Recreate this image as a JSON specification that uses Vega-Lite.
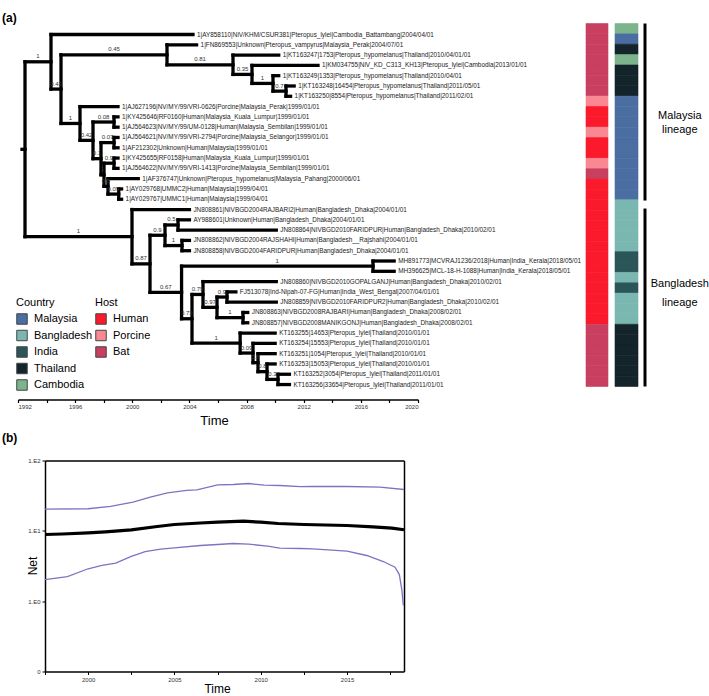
{
"$schema": "https://vega.github.io/schema/vega-lite/v6.json",
"padding": {"left": 2, "top": 11.5, "right": 0, "bottom": 0},
"background": "white",
"config": {
  "font": "Liberation Sans",
  "view": {"stroke": null},
  "axis": {"grid": false, "labelFont": "Liberation Sans", "titleFont": "Liberation Sans"},
  "legend": {"symbolType": "square", "symbolSize": 110, "symbolStrokeColor": "#444", "symbolStrokeWidth": 1, "symbolOpacity": 1, "labelFontSize": 11, "titleFontSize": 11, "titleFontWeight": "normal", "labelColor": "black", "titleColor": "black", "rowPadding": 0.5, "titlePadding": 5, "labelOffset": 6, "padding": 0, "offset": 0},
  "title": {"font": "Liberation Sans"}
},
"datasets": {
  "tips": [
    {"i":1,"t":2004.25,"host":"Bat","country":"Cambodia","label":"1|AY858110|NiV/KHM/CSUR381|Pteropus_lylei|Cambodia_Battambang|2004/04/01"},
    {"i":2,"t":2004.5,"host":"Bat","country":"Malaysia","label":"1|FN869553|Unknown|Pteropus_vampyrus|Malaysia_Perak|2004/07/01"},
    {"i":3,"t":2010.25,"host":"Bat","country":"Thailand","label":"1|KT163247|1753|Pteropus_hypomelanus|Thailand|2010/04/01/01"},
    {"i":4,"t":2013.0,"host":"Bat","country":"Cambodia","label":"1|KM034755|NiV_KD_C313_KH13|Pteropus_lylei|Cambodia|2013/01/01"},
    {"i":5,"t":2010.25,"host":"Bat","country":"Thailand","label":"1|KT163249|1353|Pteropus_hypomelanus|Thailand|2010/04/01"},
    {"i":6,"t":2011.33,"host":"Bat","country":"Thailand","label":"1|KT163248|16454|Pteropus_hypomelanus|Thailand|2011/05/01"},
    {"i":7,"t":2011.08,"host":"Bat","country":"Thailand","label":"1|KT163250|8554|Pteropus_hypomelanus|Thailand|2011/02/01"},
    {"i":8,"t":1999.0,"host":"Porcine","country":"Malaysia","label":"1|AJ627196|NV/MY/99/VRI-0626|Porcine|Malaysia_Perak|1999/01/01"},
    {"i":9,"t":1999.0,"host":"Human","country":"Malaysia","label":"1|KY425646|RF0160|Human|Malaysia_Kuala_Lumpur|1999/01/01"},
    {"i":10,"t":1999.0,"host":"Human","country":"Malaysia","label":"1|AJ564623|NV/MY/99/UM-0128|Human|Malaysia_Sembilan|1999/01/01"},
    {"i":11,"t":1999.0,"host":"Porcine","country":"Malaysia","label":"1|AJ564621|NV/MY/99/VRI-2794|Porcine|Malaysia_Selangor|1999/01/01"},
    {"i":12,"t":1999.0,"host":"Human","country":"Malaysia","label":"1|AF212302|Unknown|Human|Malaysia|1999/01/01"},
    {"i":13,"t":1999.0,"host":"Human","country":"Malaysia","label":"1|KY425655|RF0158|Human|Malaysia_Kuala_Lumpur|1999/01/01"},
    {"i":14,"t":1999.0,"host":"Porcine","country":"Malaysia","label":"1|AJ564622|NV/MY/99/VRI-1413|Porcine|Malaysia_Sembilan|1999/01/01"},
    {"i":15,"t":2000.42,"host":"Bat","country":"Malaysia","label":"1|AF376747|Unknown|Pteropus_hypomelanus|Malaysia_Pahang|2000/06/01"},
    {"i":16,"t":1999.25,"host":"Human","country":"Malaysia","label":"1|AY029768|UMMC2|Human|Malaysia|1999/04/01"},
    {"i":17,"t":1999.25,"host":"Human","country":"Malaysia","label":"1|AY029767|UMMC1|Human|Malaysia|1999/04/01"},
    {"i":18,"t":2004.0,"host":"Human","country":"Bangladesh","label":"JN808861|NIVBGD2004RAJBARI2|Human|Bangladesh_Dhaka|2004/01/01"},
    {"i":19,"t":2004.0,"host":"Human","country":"Bangladesh","label":"AY988601|Unknown|Human|Bangladesh_Dhaka|2004/01/01"},
    {"i":20,"t":2010.08,"host":"Human","country":"Bangladesh","label":"JN808864|NIVBGD2010FARIDPUR|Human|Bangladesh_Dhaka|2010/02/01"},
    {"i":21,"t":2004.0,"host":"Human","country":"Bangladesh","label":"JN808862|NIVBGD2004RAJSHAHI|Human|Bangladesh__Rajshahi|2004/01/01"},
    {"i":22,"t":2004.0,"host":"Human","country":"Bangladesh","label":"JN808858|NIVBGD2004FARIDPUR|Human|Bangladesh_Dhaka|2004/01/01"},
    {"i":23,"t":2018.33,"host":"Human","country":"India","label":"MH891773|MCVRAJ1236/2018|Human|India_Kerala|2018/05/01"},
    {"i":24,"t":2018.33,"host":"Human","country":"India","label":"MH396625|MCL-18-H-1088|Human|India_Kerala|2018/05/01"},
    {"i":25,"t":2010.08,"host":"Human","country":"Bangladesh","label":"JN808860|NIVBGD2010GOPALGANJ|Human|Bangladesh_Dhaka|2010/02/01"},
    {"i":26,"t":2007.25,"host":"Human","country":"India","label":"FJ513078|Ind-Nipah-07-FG|Human|India_West_Bengal|2007/04/01/01"},
    {"i":27,"t":2010.08,"host":"Human","country":"Bangladesh","label":"JN808859|NIVBGD2010FARIDPUR2|Human|Bangladesh_Dhaka|2010/02/01"},
    {"i":28,"t":2008.08,"host":"Human","country":"Bangladesh","label":"JN808863|NIVBGD2008RAJBARI|Human|Bangladesh_Dhaka|2008/02/01"},
    {"i":29,"t":2008.08,"host":"Human","country":"Bangladesh","label":"JN808857|NIVBGD2008MANIKGONJ|Human|Bangladesh_Dhaka|2008/02/01"},
    {"i":30,"t":2010.0,"host":"Bat","country":"Thailand","label":"KT163255|14653|Pteropus_lylei|Thailand|2010/01/01"},
    {"i":31,"t":2010.0,"host":"Bat","country":"Thailand","label":"KT163254|15553|Pteropus_lylei|Thailand|2010/01/01"},
    {"i":32,"t":2010.0,"host":"Bat","country":"Thailand","label":"KT163251|1054|Pteropus_lylei|Thailand|2010/01/01"},
    {"i":33,"t":2010.0,"host":"Bat","country":"Thailand","label":"KT163253|15053|Pteropus_lylei|Thailand|2010/01/01"},
    {"i":34,"t":2011.0,"host":"Bat","country":"Thailand","label":"KT163252|3054|Pteropus_lylei|Thailand|2011/01/01"},
    {"i":35,"t":2011.0,"host":"Bat","country":"Thailand","label":"KT163256|33654|Pteropus_lylei|Thailand|2011/01/01"}
  ],
  "edges": [
    {"x1":1992.28,"x2":1992.49,"y1":12.15,"y2":12.15},
    {"x1":1992.49,"x2":1992.49,"y1":3.65,"y2":20.64},
    {"x1":1992.49,"x2":1994.31,"y1":3.65,"y2":3.65,"lab":"1"},
    {"x1":1994.31,"x2":1994.31,"y1":1,"y2":6.30},
    {"x1":1994.31,"x2":2004.25,"y1":1,"y2":1},
    {"x1":1994.31,"x2":1995.01,"y1":6.30,"y2":6.30,"lab":"0.43"},
    {"x1":1995.01,"x2":1995.01,"y1":2.97,"y2":9.64},
    {"x1":1995.01,"x2":2002.43,"y1":2.97,"y2":2.97,"lab":"0.45"},
    {"x1":2002.43,"x2":2002.43,"y1":2,"y2":3.94},
    {"x1":2002.43,"x2":2004.5,"y1":2,"y2":2},
    {"x1":2002.43,"x2":2007.05,"y1":3.94,"y2":3.94,"lab":"0.81"},
    {"x1":2007.05,"x2":2007.05,"y1":3,"y2":4.875},
    {"x1":2007.05,"x2":2010.25,"y1":3,"y2":3},
    {"x1":2007.05,"x2":2008.38,"y1":4.875,"y2":4.875,"lab":"0.35"},
    {"x1":2008.38,"x2":2008.38,"y1":4,"y2":5.75},
    {"x1":2008.38,"x2":2013.0,"y1":4,"y2":4},
    {"x1":2008.38,"x2":2009.85,"y1":5.75,"y2":5.75,"lab":"1"},
    {"x1":2009.85,"x2":2009.85,"y1":5,"y2":6.5},
    {"x1":2009.85,"x2":2010.25,"y1":5,"y2":5},
    {"x1":2009.85,"x2":2010.76,"y1":6.5,"y2":6.5,"lab":"0.7"},
    {"x1":2010.76,"x2":2010.76,"y1":6,"y2":7},
    {"x1":2010.76,"x2":2011.33,"y1":6,"y2":6},
    {"x1":2010.76,"x2":2011.08,"y1":7,"y2":7},
    {"x1":1995.01,"x2":1996.34,"y1":9.64,"y2":9.64,"lab":"1"},
    {"x1":1996.34,"x2":1996.34,"y1":8,"y2":11.28},
    {"x1":1996.34,"x2":1999.0,"y1":8,"y2":8},
    {"x1":1996.34,"x2":1997.25,"y1":11.28,"y2":11.28,"lab":"0.42"},
    {"x1":1997.25,"x2":1997.25,"y1":9.5,"y2":13.06},
    {"x1":1997.25,"x2":1998.72,"y1":9.5,"y2":9.5,"lab":"0.08"},
    {"x1":1998.72,"x2":1998.72,"y1":9,"y2":10},
    {"x1":1998.72,"x2":1999.0,"y1":9,"y2":9},
    {"x1":1998.72,"x2":1999.0,"y1":10,"y2":10},
    {"x1":1997.25,"x2":1997.81,"y1":13.06,"y2":13.06,"lab":"0.1"},
    {"x1":1997.81,"x2":1997.81,"y1":11.5,"y2":14.625},
    {"x1":1997.81,"x2":1998.72,"y1":11.5,"y2":11.5,"lab":"0.07"},
    {"x1":1998.72,"x2":1998.72,"y1":11,"y2":12},
    {"x1":1998.72,"x2":1999.0,"y1":11,"y2":11},
    {"x1":1998.72,"x2":1999.0,"y1":12,"y2":12},
    {"x1":1997.81,"x2":1998.02,"y1":14.625,"y2":14.625,"lab":"1"},
    {"x1":1998.02,"x2":1998.02,"y1":13.5,"y2":15.75},
    {"x1":1998.02,"x2":1998.72,"y1":13.5,"y2":13.5,"lab":"0.9"},
    {"x1":1998.72,"x2":1998.72,"y1":13,"y2":14},
    {"x1":1998.72,"x2":1999.0,"y1":13,"y2":13},
    {"x1":1998.72,"x2":1999.0,"y1":14,"y2":14},
    {"x1":1998.02,"x2":1998.3,"y1":15.75,"y2":15.75,"lab":"0.5"},
    {"x1":1998.3,"x2":1998.3,"y1":15,"y2":16.5},
    {"x1":1998.3,"x2":2000.42,"y1":15,"y2":15},
    {"x1":1998.3,"x2":1999.05,"y1":16.5,"y2":16.5,"lab":"0.09"},
    {"x1":1999.05,"x2":1999.05,"y1":16,"y2":17},
    {"x1":1999.05,"x2":1999.25,"y1":16,"y2":16},
    {"x1":1999.05,"x2":1999.25,"y1":17,"y2":17},
    {"x1":1992.49,"x2":1999.98,"y1":20.64,"y2":20.64,"lab":"1"},
    {"x1":1999.98,"x2":1999.98,"y1":18,"y2":23.28},
    {"x1":1999.98,"x2":2004.0,"y1":18,"y2":18},
    {"x1":1999.98,"x2":2001.24,"y1":23.28,"y2":23.28,"lab":"0.87"},
    {"x1":2001.24,"x2":2001.24,"y1":20.5,"y2":26.05},
    {"x1":2001.24,"x2":2002.29,"y1":20.5,"y2":20.5,"lab":"0.9"},
    {"x1":2002.29,"x2":2002.29,"y1":19.5,"y2":21.5},
    {"x1":2002.29,"x2":2003.2,"y1":19.5,"y2":19.5,"lab":"0.5"},
    {"x1":2003.2,"x2":2003.2,"y1":19,"y2":20},
    {"x1":2003.2,"x2":2004.0,"y1":19,"y2":19},
    {"x1":2003.2,"x2":2010.08,"y1":20,"y2":20},
    {"x1":2002.29,"x2":2003.48,"y1":21.5,"y2":21.5,"lab":"1"},
    {"x1":2003.48,"x2":2003.48,"y1":21,"y2":22},
    {"x1":2003.48,"x2":2004.0,"y1":21,"y2":21},
    {"x1":2003.48,"x2":2004.0,"y1":22,"y2":22},
    {"x1":2001.24,"x2":2003.45,"y1":26.05,"y2":26.05,"lab":"0.67"},
    {"x1":2003.45,"x2":2003.45,"y1":23.5,"y2":28.61},
    {"x1":2003.45,"x2":2016.85,"y1":23.5,"y2":23.5,"lab":"1"},
    {"x1":2016.85,"x2":2016.85,"y1":23,"y2":24},
    {"x1":2016.85,"x2":2018.33,"y1":23,"y2":23},
    {"x1":2016.85,"x2":2018.33,"y1":24,"y2":24},
    {"x1":2003.45,"x2":2004.18,"y1":28.61,"y2":28.61,"lab":"0.73"},
    {"x1":2004.18,"x2":2004.18,"y1":26.25,"y2":30.97},
    {"x1":2004.18,"x2":2004.95,"y1":26.25,"y2":26.25,"lab":"0.79"},
    {"x1":2004.95,"x2":2004.95,"y1":25,"y2":27.5},
    {"x1":2004.95,"x2":2010.08,"y1":25,"y2":25},
    {"x1":2004.95,"x2":2005.93,"y1":27.5,"y2":27.5,"lab":"0.97"},
    {"x1":2005.93,"x2":2005.93,"y1":26.5,"y2":28.5},
    {"x1":2005.93,"x2":2006.63,"y1":26.5,"y2":26.5,"lab":"0.9"},
    {"x1":2006.63,"x2":2006.63,"y1":26,"y2":27},
    {"x1":2006.63,"x2":2007.25,"y1":26,"y2":26},
    {"x1":2006.63,"x2":2010.08,"y1":27,"y2":27},
    {"x1":2005.93,"x2":2007.75,"y1":28.5,"y2":28.5,"lab":"1"},
    {"x1":2007.75,"x2":2007.75,"y1":28,"y2":29},
    {"x1":2007.75,"x2":2008.08,"y1":28,"y2":28},
    {"x1":2007.75,"x2":2008.08,"y1":29,"y2":29},
    {"x1":2004.18,"x2":2007.55,"y1":30.97,"y2":30.97,"lab":"1"},
    {"x1":2007.55,"x2":2007.55,"y1":30,"y2":31.94},
    {"x1":2007.55,"x2":2010.0,"y1":30,"y2":30},
    {"x1":2007.55,"x2":2008.45,"y1":31.94,"y2":31.94,"lab":"0.09"},
    {"x1":2008.45,"x2":2008.45,"y1":31,"y2":32.875},
    {"x1":2008.45,"x2":2010.0,"y1":31,"y2":31},
    {"x1":2008.45,"x2":2008.8,"y1":32.875,"y2":32.875,"lab":"0.5"},
    {"x1":2008.8,"x2":2008.8,"y1":32,"y2":33.75},
    {"x1":2008.8,"x2":2010.0,"y1":32,"y2":32},
    {"x1":2008.8,"x2":2009.43,"y1":33.75,"y2":33.75,"lab":"0.8"},
    {"x1":2009.43,"x2":2009.43,"y1":33,"y2":34.5},
    {"x1":2009.43,"x2":2010.0,"y1":33,"y2":33},
    {"x1":2009.43,"x2":2010.2,"y1":34.5,"y2":34.5,"lab":"0.3"},
    {"x1":2010.2,"x2":2010.2,"y1":34,"y2":35},
    {"x1":2010.2,"x2":2011.0,"y1":34,"y2":34},
    {"x1":2010.2,"x2":2011.0,"y1":35,"y2":35}
  ],
  "lineages": [
    {"name":"Malaysia","lo":0.5,"hi":17.57,"label":"Malaysia\nlineage"},
    {"name":"Bangladesh","lo":18.34,"hi":35.5,"label":"Bangladesh\nlineage"}
  ],
  "net": [
    {"s":"median","t":1997.5,"v":8.87},{"s":"median","t":1998.5,"v":9.02},{"s":"median","t":2000,"v":9.38},{"s":"median","t":2001,"v":9.69},{"s":"median","t":2002.5,"v":10.35},{"s":"median","t":2004,"v":11.53},{"s":"median","t":2005,"v":12.31},{"s":"median","t":2006.5,"v":12.93},{"s":"median","t":2007.5,"v":13.27},{"s":"median","t":2009,"v":13.71},{"s":"median","t":2010,"v":13.27},{"s":"median","t":2011,"v":12.72},{"s":"median","t":2012.5,"v":12.31},{"s":"median","t":2015,"v":11.91},{"s":"median","t":2016.5,"v":11.41},{"s":"median","t":2017.6,"v":10.9},{"s":"median","t":2018.3,"v":10.35},
    {"s":"upper","t":1997.5,"v":20.3},{"s":"upper","t":2000,"v":20.6},{"s":"upper","t":2001.3,"v":22.2},{"s":"upper","t":2002.6,"v":25.5},{"s":"upper","t":2003.6,"v":30.1},{"s":"upper","t":2004.6,"v":34.7},{"s":"upper","t":2005.7,"v":37.5},{"s":"upper","t":2006.3,"v":38.3},{"s":"upper","t":2007.5,"v":45.1},{"s":"upper","t":2008.4,"v":45.6},{"s":"upper","t":2009.3,"v":47.1},{"s":"upper","t":2010.2,"v":44.6},{"s":"upper","t":2011.1,"v":44.1},{"s":"upper","t":2012.3,"v":42.5},{"s":"upper","t":2013,"v":42.7},{"s":"upper","t":2015,"v":42.7},{"s":"upper","t":2016.9,"v":41.7},{"s":"upper","t":2018.3,"v":38.7},
    {"s":"lower","t":1997.5,"v":2.03},{"s":"lower","t":1998.8,"v":2.24},{"s":"lower","t":2000,"v":2.89},{"s":"lower","t":2000.8,"v":3.22},{"s":"lower","t":2001.6,"v":3.47},{"s":"lower","t":2002.5,"v":4.32},{"s":"lower","t":2003.3,"v":5.08},{"s":"lower","t":2004.2,"v":5.48},{"s":"lower","t":2005,"v":5.74},{"s":"lower","t":2006.5,"v":6.19},{"s":"lower","t":2007.5,"v":6.39},{"s":"lower","t":2008.4,"v":6.61},{"s":"lower","t":2009.3,"v":6.46},{"s":"lower","t":2010.4,"v":6.05},{"s":"lower","t":2011.1,"v":5.66},{"s":"lower","t":2012.3,"v":5.61},{"s":"lower","t":2013,"v":5.55},{"s":"lower","t":2015,"v":5.13},{"s":"lower","t":2016.14,"v":4.46},{"s":"lower","t":2017.1,"v":3.66},{"s":"lower","t":2017.78,"v":3.04},{"s":"lower","t":2018.03,"v":2.39},{"s":"lower","t":2018.18,"v":1.42},{"s":"lower","t":2018.26,"v":0.87}
  ]
},
"columns": 4,
"align": "none",
"bounds": "flush",
"spacing": {"row": 74, "column": 7},
"resolve": {"scale": {"color": "independent", "stroke": "independent"}, "legend": {"color": "independent", "stroke": "independent"}},
"concat": [
  {
    "width": 561, "height": 363,
    "title": {"text": "(a)", "anchor": "start", "frame": "group", "dx": -16, "offset": -10, "fontSize": 12, "fontWeight": "bold", "baseline": "alphabetic", "color": "black"},
    "layer": [
      {
        "data": {"name": "edges"},
        "mark": {"type": "rule", "strokeWidth": 3.3, "strokeCap": "square", "color": "black"},
        "encoding": {
          "x": {"field": "x1", "type": "quantitative", "scale": {"domain": [1992, 2020], "range": [0, 400], "nice": false, "zero": false},
            "axis": {"title": "Time", "values": [1992,1994,1996,1998,2000,2002,2004,2006,2008,2010,2012,2014,2016,2018,2020], "format": "d", "labelExpr": "datum.value % 4 == 0 ? datum.label : ''", "offset": 13, "domainColor": "black", "domainWidth": 1.5, "tickColor": "black", "tickWidth": 1.2, "tickSize": 3, "labelFontSize": 6, "labelColor": "#333", "labelPadding": 1, "titleFontSize": 13, "titleFontWeight": "normal", "titleColor": "black", "titleX": 196, "titleY": 21, "titleBaseline": "middle", "titleAlign": "center"}},
          "x2": {"field": "x2"},
          "y": {"field": "y1", "type": "quantitative", "scale": {"domain": [-0.07, 35.19], "reverse": true, "nice": false, "zero": false}, "axis": null},
          "y2": {"field": "y2"}
        }
      },
      {
        "data": {"name": "edges"},
        "transform": [{"filter": "datum.lab"}, {"calculate": "(datum.x1 + datum.x2) / 2", "as": "xm"}],
        "mark": {"type": "text", "fontSize": 6, "dy": -2.5, "baseline": "bottom", "align": "center", "color": "#333"},
        "encoding": {
          "x": {"field": "xm", "type": "quantitative"},
          "y": {"field": "y1", "type": "quantitative"},
          "text": {"field": "lab"}
        }
      },
      {
        "data": {"name": "tips"},
        "mark": {"type": "text", "align": "left", "baseline": "middle", "dx": 4, "fontSize": 6.4, "color": "#222"},
        "encoding": {
          "x": {"field": "t", "type": "quantitative"},
          "y": {"field": "i", "type": "quantitative"},
          "text": {"field": "label"}
        }
      },
      {
        "data": {"name": "tips"},
        "mark": {"type": "square", "opacity": 0, "stroke": "#444", "strokeWidth": 1},
        "encoding": {
          "x": {"field": "t", "type": "quantitative"},
          "y": {"field": "i", "type": "quantitative"},
          "color": {"field": "country", "type": "nominal", "scale": {"domain": ["Malaysia", "Bangladesh", "India", "Thailand", "Cambodia"], "range": ["#4a6ea1", "#7bb7b1", "#2b5659", "#13242a", "#7cb48b"]},
            "legend": {"title": "Country", "orient": "none", "legendX": -2, "legendY": 273.5, "symbolOpacity": 1}}
        }
      },
      {
        "data": {"name": "tips"},
        "mark": {"type": "square", "opacity": 0, "stroke": "#444", "strokeWidth": 1},
        "encoding": {
          "x": {"field": "t", "type": "quantitative"},
          "y": {"field": "i", "type": "quantitative"},
          "color": {"field": "host", "type": "nominal", "scale": {"domain": ["Human", "Porcine", "Bat"], "range": ["#fa1a2b", "#f98893", "#c83f60"]},
            "legend": {"title": "Host", "orient": "none", "legendX": 77, "legendY": 273.5, "symbolOpacity": 1}}
        }
      }
    ],
    "resolve": {"scale": {"color": "independent"}, "legend": {"color": "independent"}}
  },
  {
    "width": 22, "height": 363,
    "data": {"name": "tips"},
    "mark": {"type": "rect", "strokeWidth": 0.6},
    "encoding": {
      "y": {"field": "i", "type": "ordinal", "scale": {"paddingInner": 0, "paddingOuter": 0}, "axis": null},
      "color": {"field": "host", "type": "nominal", "scale": {"domain": ["Human", "Porcine", "Bat"], "range": ["#fa1a2b", "#f98893", "#c83f60"]}, "legend": null},
      "stroke": {"field": "host", "type": "nominal", "scale": {"domain": ["Human", "Porcine", "Bat"], "range": ["#fa1a2b", "#f98893", "#c83f60"]}, "legend": null}
    }
  },
  {
    "width": 23, "height": 363,
    "data": {"name": "tips"},
    "mark": {"type": "rect", "strokeWidth": 0.6},
    "encoding": {
      "y": {"field": "i", "type": "ordinal", "scale": {"paddingInner": 0, "paddingOuter": 0}, "axis": null},
      "color": {"field": "country", "type": "nominal", "scale": {"domain": ["Malaysia", "Bangladesh", "India", "Thailand", "Cambodia"], "range": ["#4a6ea1", "#7bb7b1", "#2b5659", "#13242a", "#7cb48b"]}, "legend": null},
      "stroke": {"field": "country", "type": "nominal", "scale": {"domain": ["Malaysia", "Bangladesh", "India", "Thailand", "Cambodia"], "range": ["#4a6ea1", "#7bb7b1", "#2b5659", "#13242a", "#7cb48b"]}, "legend": null}
    }
  },
  {
    "width": 60, "height": 363,
    "data": {"name": "lineages"},
    "layer": [
      {
        "mark": {"type": "rule", "strokeWidth": 3, "color": "black"},
        "encoding": {
          "x": {"datum": 0, "type": "quantitative", "scale": {"domain": [0, 1]}, "axis": null},
          "y": {"field": "lo", "type": "quantitative", "scale": {"domain": [0.5, 35.5], "reverse": true, "nice": false, "zero": false}, "axis": null},
          "y2": {"field": "hi"}
        }
      },
      {
        "transform": [{"filter": "datum.name == 'Malaysia'"}, {"calculate": "(datum.lo + datum.hi) / 2", "as": "mid"}],
        "mark": {"type": "text", "fontSize": 11, "lineHeight": 14, "lineBreak": "\n", "align": "center", "baseline": "middle", "dy": 3.5, "color": "black"},
        "encoding": {
          "x": {"datum": 0.58, "type": "quantitative"},
          "y": {"field": "mid", "type": "quantitative"},
          "text": {"field": "label"}
        }
      },
      {
        "transform": [{"filter": "datum.name == 'Bangladesh'"}, {"calculate": "(datum.lo + datum.hi) / 2", "as": "mid"}],
        "mark": {"type": "text", "fontSize": 11, "lineHeight": 19, "lineBreak": "\n", "align": "center", "baseline": "middle", "dy": -14, "color": "black"},
        "encoding": {
          "x": {"datum": 0.58, "type": "quantitative"},
          "y": {"field": "mid", "type": "quantitative"},
          "text": {"field": "label"}
        }
      }
    ]
  },
  {
    "width": 386, "height": 211,
    "title": {"text": "(b)", "anchor": "start", "frame": "group", "dx": -16, "offset": 3.5, "fontSize": 12, "fontWeight": "bold", "baseline": "alphabetic", "color": "black"},
    "data": {"name": "net"},
    "layer": [
      {
        "transform": [{"filter": "datum.s != 'median'"}],
        "mark": {"type": "line", "color": "#7b74c2", "strokeWidth": 1.3},
        "encoding": {
          "x": {"field": "t", "type": "quantitative", "scale": {"domain": [1997.5, 2018.3], "range": [27, 386], "nice": false, "zero": false},
            "axis": {"title": "Time", "values": [1997.5, 2000, 2002.5, 2005, 2007.5, 2010, 2012.5, 2015, 2017.5], "labelExpr": "datum.value % 5 == 0 ? format(datum.value, 'd') : ''", "domainColor": "black", "domainWidth": 1.5, "tickColor": "black", "tickWidth": 1, "tickSize": 3, "labelFontSize": 6, "labelColor": "#333", "labelPadding": 2, "titleFontSize": 12, "titleFontWeight": "normal", "titleColor": "black", "titleX": 199, "titleY": 17, "titleBaseline": "middle", "titleAlign": "center"}},
          "y": {"field": "v", "type": "quantitative", "scale": {"type": "log", "domain": [0.1, 100], "nice": false},
            "axis": {"title": "Net", "offset": -27, "values": [0.1, 1, 10, 100], "labelExpr": "datum.value == 100 ? '1.E2' : datum.value == 10 ? '1.E1' : datum.value == 1 ? '1.E0' : '0'", "domainColor": "black", "domainWidth": 1.5, "tickColor": "black", "tickWidth": 1, "tickSize": 3, "labelFontSize": 6, "labelColor": "#333", "labelPadding": 2, "titleFontSize": 12, "titleFontWeight": "normal", "titleColor": "black", "titleX": -6, "titleY": 105, "titleAngle": -90, "titleAlign": "center", "titleBaseline": "bottom"}},
          "detail": {"field": "s"}
        }
      },
      {
        "transform": [{"filter": "datum.s == 'median'"}],
        "mark": {"type": "line", "color": "black", "strokeWidth": 3.2},
        "encoding": {
          "x": {"field": "t", "type": "quantitative", "scale": {"domain": [1997.5, 2018.3], "range": [27, 386], "nice": false, "zero": false},
            "axis": {"orient": "top", "title": null, "labels": false, "ticks": false, "domainColor": "black", "domainWidth": 1.5}},
          "y": {"field": "v", "type": "quantitative", "scale": {"type": "log", "domain": [0.1, 100], "nice": false},
            "axis": {"orient": "right", "title": null, "labels": false, "ticks": false, "domainColor": "black", "domainWidth": 1.5}}
        }
      }
    ],
    "resolve": {"axis": {"x": "independent", "y": "independent"}}
  }
]
}
